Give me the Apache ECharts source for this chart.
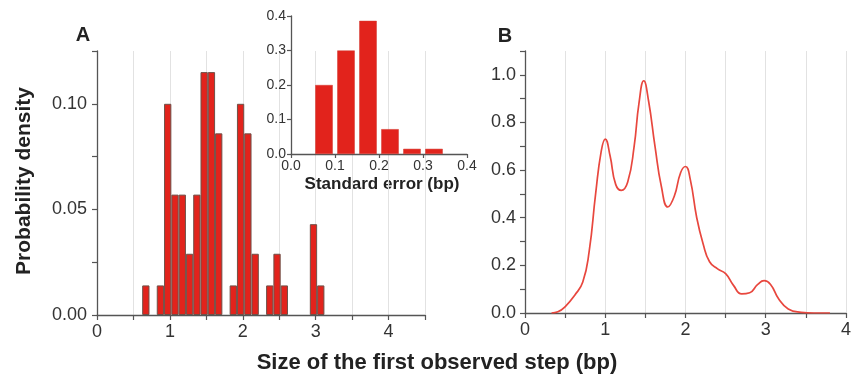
<!DOCTYPE html>
<html>
<head>
<meta charset="utf-8">
<script src="https://cdn.jsdelivr.net/npm/echarts@6/dist/echarts.min.js"></script>
<style>
  html, body { margin: 0; padding: 0; background: #fff; }
</style>
</head>
<body>
<!--容器-->
<div id="main" style="width:854px;height:382px;"></div>
<script>
// panel A: histogram of first step size (bin centres, density)
var stepCenters = [0.67, 0.87, 0.97, 1.07, 1.17, 1.27, 1.37, 1.47, 1.57, 1.67, 1.87, 1.97, 2.07, 2.17, 2.37, 2.47, 2.57, 2.97, 3.07];
var stepDensity = [0.014, 0.014, 0.100, 0.057, 0.057, 0.029, 0.057, 0.115, 0.115, 0.086, 0.014, 0.100, 0.086, 0.029, 0.014, 0.029, 0.014, 0.043, 0.014];

// inset: standard error histogram
var errCenters = [0.075, 0.125, 0.175, 0.225, 0.275, 0.325];
var errDensity = [0.200, 0.300, 0.386, 0.072, 0.015, 0.015];

// panel B: smoothed density curve
var kdeX = [0.33, 0.41, 0.51, 0.62, 0.72, 0.80, 0.88, 0.95, 1.0, 1.06, 1.13, 1.20, 1.28, 1.36, 1.42, 1.48, 1.54, 1.62, 1.70, 1.78, 1.86, 1.94, 2.0, 2.06, 2.14, 2.22, 2.30, 2.40, 2.50, 2.60, 2.70, 2.80, 2.90, 2.98, 3.06, 3.16, 3.28, 3.44, 3.60, 3.80];
var kdeY = [0.0, 0.005, 0.03, 0.075, 0.13, 0.26, 0.50, 0.68, 0.73, 0.66, 0.54, 0.515, 0.55, 0.70, 0.88, 0.975, 0.89, 0.70, 0.53, 0.445, 0.49, 0.59, 0.615, 0.56, 0.40, 0.29, 0.215, 0.185, 0.165, 0.115, 0.08, 0.085, 0.12, 0.136, 0.12, 0.06, 0.017, 0.003, 0.0, 0.0];

// tick labels
var stepTicks = [0, 1, 2, 3, 4];
var densityTicks = ['0.00', '0.05', '0.10'];

var FONT = 'Liberation Sans, Arial, sans-serif';
var TXT = '#333';
var AXIS = '#555';
var GRIDLINE = '#e2e2e2';

var myChart = echarts.init(document.getElementById('main'), null, { renderer: 'canvas' });

function pairs(xs, ys) {
  return xs.map(function (x, i) { return [x, ys[i]]; });
}
function axisBase(fontSize) {
  return {
    axisLine: { show: true, onZero: false, lineStyle: { color: AXIS, width: 1.3 } },
    axisTick: { show: true, inside: false, length: 5, lineStyle: { color: AXIS, width: 1.2 } },
    axisLabel: { color: TXT, fontSize: fontSize, fontFamily: FONT },
    splitLine: { show: false }
  };
}

var xA = Object.assign(axisBase(18), {
  type: 'value', gridIndex: 0, min: 0, max: 4.5, interval: 0.5,
  splitLine: { show: true, lineStyle: { color: GRIDLINE, width: 1 } }
});
xA.axisLabel.margin = 8;
xA.axisLabel.formatter = function (v) { return stepTicks.indexOf(v) >= 0 ? String(v) : ''; };

var yA = Object.assign(axisBase(18), {
  type: 'value', gridIndex: 0, min: 0, max: 0.125, interval: 0.025
});
yA.axisLabel.margin = 10;
yA.axisLabel.formatter = function (v) {
  var s = v.toFixed(2);
  return densityTicks.indexOf(s) >= 0 ? s : '';
};

var xIn = Object.assign(axisBase(14), {
  type: 'value', gridIndex: 1, min: 0, max: 0.4, interval: 0.1
});
xIn.axisTick.length = 4;
xIn.axisLabel.margin = 5;
xIn.axisLabel.formatter = function (v) { return v.toFixed(1); };

var yIn = Object.assign(axisBase(14), {
  type: 'value', gridIndex: 1, min: 0, max: 0.4, interval: 0.1
});
yIn.axisTick.length = 4;
yIn.axisLabel.margin = 5;
yIn.axisLabel.formatter = function (v) { return v.toFixed(1); };

var xB = Object.assign(axisBase(18), {
  type: 'value', gridIndex: 2, min: 0, max: 4, interval: 0.5,
  splitLine: { show: true, lineStyle: { color: GRIDLINE, width: 1 } }
});
xB.axisLabel.margin = 8;
xB.axisLabel.formatter = function (v) { return stepTicks.indexOf(v) >= 0 ? String(v) : ''; };

var yB = Object.assign(axisBase(18), {
  type: 'value', gridIndex: 2, min: 0, max: 1.1, interval: 0.1
});
yB.axisLabel.margin = 9;
yB.axisLabel.formatter = function (v) {
  var k = Math.round(v * 10);
  return (k % 2 === 0 && k <= 10) ? v.toFixed(1) : '';
};

var option = {
  animation: false,
  backgroundColor: '#fff',
  grid: [
    { left: 97, top: 51, width: 328, height: 264 },
    { left: 291, top: 16, width: 176, height: 138 },
    { left: 525, top: 51, width: 327, height: 262 }
  ],
  xAxis: [xA, xIn, xB],
  yAxis: [yA, yIn, yB],
  series: [
    {
      name: 'step',
      type: 'bar',
      xAxisIndex: 0, yAxisIndex: 0,
      barWidth: 7.3,
      data: pairs(stepCenters, stepDensity),
      itemStyle: { color: '#e2231c', borderColor: '#6f5048', borderWidth: 1 },
      z: 3
    },
    {
      name: 'error',
      type: 'bar',
      xAxisIndex: 1, yAxisIndex: 1,
      barWidth: 17.5,
      data: pairs(errCenters, errDensity),
      itemStyle: { color: '#e2231c', borderColor: '#d33a30', borderWidth: 0.5 },
      z: 4
    },
    {
      name: 'kde',
      type: 'line',
      xAxisIndex: 2, yAxisIndex: 2,
      data: pairs(kdeX, kdeY),
      smooth: 0.5,
      showSymbol: false,
      symbol: 'none',
      lineStyle: { color: '#e8473e', width: 1.7 }
    }
  ],
  graphic: [
    { type: 'text', x: 83, y: 35, style: { text: 'A', font: 'bold 20px ' + FONT, fill: '#222', align: 'center', verticalAlign: 'middle', textAlign: 'center', textVerticalAlign: 'middle' } },
    { type: 'text', x: 505, y: 36, style: { text: 'B', font: 'bold 20px ' + FONT, fill: '#222', align: 'center', verticalAlign: 'middle', textAlign: 'center', textVerticalAlign: 'middle' } },
    { type: 'text', x: 24, y: 181, rotation: Math.PI / 2, style: { text: 'Probability density', font: 'bold 21px ' + FONT, fill: '#222', align: 'center', verticalAlign: 'middle', textAlign: 'center', textVerticalAlign: 'middle' } },
    { type: 'text', x: 437, y: 363, style: { text: 'Size of the first observed step (bp)', font: 'bold 22px ' + FONT, fill: '#222', align: 'center', verticalAlign: 'middle', textAlign: 'center', textVerticalAlign: 'middle' } },
    { type: 'text', x: 382, y: 184, style: { text: 'Standard error (bp)', font: 'bold 17px ' + FONT, fill: '#222', align: 'center', verticalAlign: 'middle', textAlign: 'center', textVerticalAlign: 'middle' } }
  ]
};

myChart.setOption(option);
</script>
</body>
</html>
